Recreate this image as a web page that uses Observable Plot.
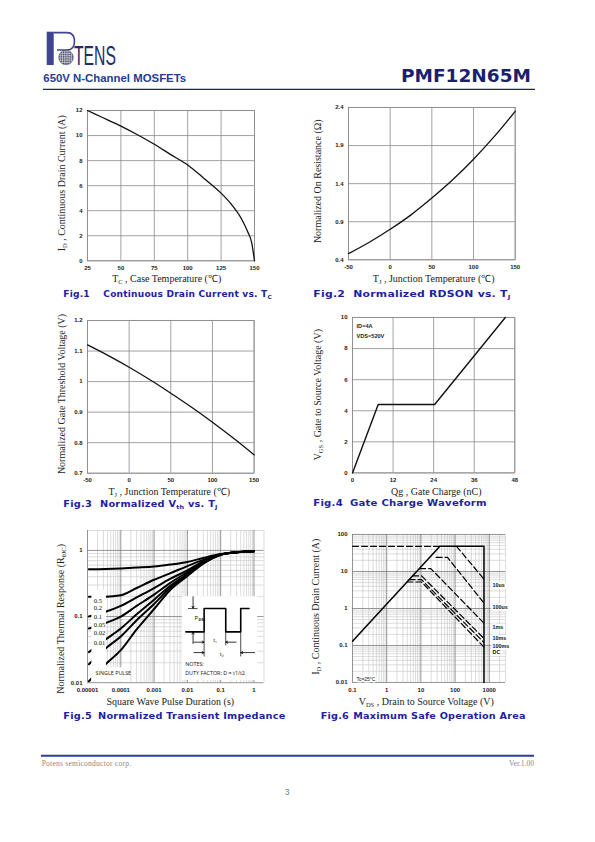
<!DOCTYPE html>
<html><head><meta charset="utf-8">
<script src="https://cdn.jsdelivr.net/npm/d3@7"></script>
<script src="https://cdn.jsdelivr.net/npm/@observablehq/plot@0.6"></script>
<style>
html,body{margin:0;padding:0;background:#fff;}
#page{position:relative;width:595px;height:842px;overflow:hidden;background:#fff;}
</style></head><body><div id="page"></div>
<script>
// ---------------- DATA ----------------
// Fig.1 Continuous drain current vs Tc
const f1Temp = [25, 35, 50, 60, 75, 87, 100, 112, 125, 132, 140, 145, 148, 150];
const f1Id   = [12, 11.5, 10.75, 10.2, 9.3, 8.5, 7.65, 6.6, 5.4, 4.6, 3.4, 2.3, 1.4, 0];
const f1XTicks = [25, 50, 75, 100, 125, 150];
const f1YTicks = [0, 2, 4, 6, 8, 10, 12];
// Fig.2 Normalized RDS(on) vs Tj
const f2Temp = [-50, -25, 0, 25, 50, 75, 100, 125, 150];
const f2Rds  = [0.48, 0.63, 0.80, 0.99, 1.21, 1.45, 1.72, 2.02, 2.35];
const f2XTicks = [-50, 0, 50, 100, 150];
const f2YTicks = [0.4, 0.9, 1.4, 1.9, 2.4];
// Fig.3 Normalized Vth vs Tj
const f3Temp = [-50, -25, 0, 25, 50, 75, 100, 125, 150];
const f3Vth  = [1.12, 1.085, 1.047, 1.006, 0.962, 0.916, 0.867, 0.815, 0.76];
const f3XTicks = [-50, 0, 50, 100, 150];
const f3YTicks = [0.7, 0.8, 0.9, 1, 1.1, 1.2];
// Fig.4 Gate charge
const f4Qg  = [0, 7.6, 24.3, 45.2];
const f4Vgs = [0, 4.4, 4.4, 10];
const f4XTicks = [0, 12, 24, 36, 48];
const f4YTicks = [0, 2, 4, 6, 8, 10];
const f4Notes = ["ID=4A", "VDS=520V"];
// Fig.5 Transient thermal impedance
const f5Time   = [1.1e-5, 3.5e-5, 1e-4, 3e-4, 1e-3, 3e-3, 1e-2, 3e-2, 0.1, 0.3, 1];
const f5D05    = [0.52, 0.525, 0.535, 0.55, 0.57, 0.61, 0.67, 0.77, 0.88, 0.94, 0.97];
const f5D02    = [0.20, 0.20, 0.21, 0.27, 0.36, 0.45, 0.58, 0.72, 0.87, 0.94, 0.97];
const f5D01    = [0.10, 0.118, 0.145, 0.195, 0.27, 0.37, 0.50, 0.68, 0.87, 0.94, 0.97];
const f5D005   = [0.066, 0.08, 0.10, 0.145, 0.215, 0.32, 0.47, 0.67, 0.87, 0.94, 0.97];
const f5D002   = [0.029, 0.045, 0.066, 0.108, 0.18, 0.29, 0.44, 0.65, 0.86, 0.94, 0.97];
const f5D001   = [0.019, 0.033, 0.05, 0.088, 0.155, 0.27, 0.425, 0.64, 0.86, 0.94, 0.97];
const f5Single = [0.0105, 0.019, 0.031, 0.064, 0.13, 0.25, 0.41, 0.63, 0.86, 0.94, 0.97];
const f5Duty   = ["0.5", "0.2", "0.1", "0.05", "0.02", "0.01", "single"];
const f5LegendLabels = ["0.5", "0.2", "0.1", "0.05", "0.02", "0.01"];
const f5LegendY = [0.175, 0.133, 0.1, 0.076, 0.056, 0.04];
const f5XTicks = [1e-5, 1e-4, 1e-3, 1e-2, 1e-1, 1];
const f5XLabels = ["0.00001", "0.0001", "0.001", "0.01", "0.1", "1"];
const f5YTicks = [0.01, 0.1, 1];
const f5YLabels = ["0.01", "0.1", "1"];
const f5WaveT = [0.009, 0.0318, 0.0318, 0.142, 0.142, 0.40, 0.40, 0.71];
const f5WaveV = [0.0587, 0.0587, 0.132, 0.132, 0.0587, 0.0587, 0.132, 0.132];
// Fig.6 Safe operating area
const f6LimitV = [0.1, 36, 700, 700];
const f6LimitI = [0.13, 48, 48, 0.01];
const f6PkgV = [0.1, 36];
const f6PkgI = [48, 48];
const f6Pulse = ["10us", "100us", "1ms", "10ms", "100ms", "DC"];
const f6PulseV = [[110, 700], [28, 60, 700], [9.2, 19.5, 700], [5.7, 10.5, 700], [4.5, 10.5, 700], [3.9, 10.5, 700]];
const f6PulseI = [[48, 6.2], [24, 24, 1.4], [12, 12, 0.4], [7.6, 7.6, 0.155], [6.0, 6.0, 0.12], [5.2, 5.2, 0.09]];
const f6LabelI = [4.3, 1.1, 0.31, 0.157, 0.097, 0.064];
const f6XTicks = [0.1, 1, 10, 100, 1000];
const f6XLabels = ["0.1", "1", "10", "100", "1000"];
const f6YTicks = [0.01, 0.1, 1, 10, 100];
const f6YLabels = ["0.01", "0.1", "1", "10", "100"];

// ---------------- LAYOUT HELPERS ----------------
const page = document.getElementById("page");
const ML = 62, MT = 12, MR = 14, MB = 40;
const GRID = "#8a8a8a";
const TICKFONT = '"Liberation Sans", Arial, sans-serif';

function writeSegs(sel, segs, subSize) {
  let shifted = false;
  segs.forEach(([s, sub]) => {
    const t = sel.append("tspan").text(s);
    if (sub) { t.attr("font-size", subSize); if (!shifted) { t.attr("dy", 2); shifted = true; } }
    else if (shifted) { t.attr("dy", -2); shifted = false; }
  });
}

function chart(cfg) {
  const w = cfg.right - cfg.left, h = cfg.bottom - cfg.top;
  const svg = Plot.plot({
    width: w + ML + MR, height: h + MT + MB,
    marginLeft: ML, marginRight: MR, marginTop: MT, marginBottom: MB,
    style: {fontFamily: TICKFONT, fontSize: "6px", fontWeight: "bold", color: "#222", background: "transparent", overflow: "visible"},
    x: cfg.x, y: cfg.y,
    marks: cfg.marks
  });
  const ox = cfg.left - ML, oy = cfg.top - MT;
  svg.style.position = "absolute";
  svg.style.left = ox + "px";
  svg.style.top = oy + "px";
  svg.style.maxWidth = "none";
  page.appendChild(svg);
  const s = d3.select(svg);
  const tx = s.append("text").attr("x", cfg.xTitle.cx - ox).attr("y", cfg.xTitle.base - oy)
    .attr("text-anchor", "middle").attr("font-family", '"Liberation Serif", "Times New Roman", serif')
    .attr("font-size", 10).attr("font-weight", "normal").attr("fill", "#222");
  writeSegs(tx, cfg.xTitle.segs, 6.5);
  const ty = s.append("text").attr("transform", `translate(${cfg.yTitle.base - ox},${cfg.yTitle.cy - oy}) rotate(-90)`)
    .attr("text-anchor", "middle").attr("font-family", '"Liberation Serif", "Times New Roman", serif')
    .attr("font-size", 10).attr("font-weight", "normal").attr("fill", "#222");
  writeSegs(ty, cfg.yTitle.segs, 6.5);
  return svg;
}

function linearMarks(xT, yT) {
  return [
    Plot.gridX(xT, {stroke: GRID, strokeOpacity: 1, strokeWidth: 0.8}),
    Plot.gridY(yT, {stroke: GRID, strokeOpacity: 1, strokeWidth: 0.8}),
    Plot.frame({stroke: GRID, strokeWidth: 0.8}),
    Plot.axisX(xT, {tickSize: 0, tickPadding: 5, label: null, tickFormat: d => `${d}`}),
    Plot.axisY(yT, {tickSize: 0, tickPadding: 5, label: null, tickFormat: d => `${d}`})
  ];
}

function minorTicks(lo, hi) {
  const out = [];
  for (let k = Math.floor(Math.log10(lo)); k <= Math.ceil(Math.log10(hi)); k++)
    for (let m = 2; m <= 9; m++) { const v = m * Math.pow(10, k); if (v > lo * 1.0001 && v <= hi * 1.0001) out.push(v); }
  return out;
}

function logMarks(xDom, yDom, xT, xL, yT, yL) {
  return [
    Plot.ruleX(minorTicks(xDom[0], xDom[1]), {stroke: "#c4c4c4", strokeWidth: 0.6}),
    Plot.ruleY(minorTicks(yDom[0], yDom[1]), {stroke: "#c4c4c4", strokeWidth: 0.6}),
    Plot.ruleX(xT, {stroke: "#7a7a7a", strokeWidth: 0.8}),
    Plot.ruleY(yT, {stroke: "#7a7a7a", strokeWidth: 0.8}),
    Plot.axisX(xT, {tickSize: 0, tickPadding: 5, label: null, tickFormat: d => xL[xT.indexOf(d)]}),
    Plot.axisY(yT, {tickSize: 0, tickPadding: 5, label: null, tickFormat: d => yL[yT.indexOf(d)]})
  ];
}

// ---------------- FIG 1 ----------------
chart({
  left: 87.3, right: 254.3, top: 109.7, bottom: 260,
  x: {domain: [25, 150]}, y: {domain: [0, 12]},
  marks: [
    ...linearMarks(f1XTicks, f1YTicks),
    Plot.line(f1Temp.map((t, i) => ({t, v: f1Id[i]})), {x: "t", y: "v", stroke: "#111", strokeWidth: 1.3, curve: "monotone-x"})
  ],
  xTitle: {cx: 167, base: 281.5, segs: [["T"], ["C", 1], [" , Case Temperature (℃)"]]},
  yTitle: {cy: 183, base: 65.5, segs: [["I"], ["D", 1], [" , Continuous Drain Current (A)"]]}
});

// ---------------- FIG 2 ----------------
chart({
  left: 348.3, right: 515, top: 106.7, bottom: 259,
  x: {domain: [-50, 150]}, y: {domain: [0.4, 2.4]},
  marks: [
    ...linearMarks(f2XTicks, f2YTicks),
    Plot.line(f2Temp.map((t, i) => ({t, v: f2Rds[i]})), {x: "t", y: "v", stroke: "#111", strokeWidth: 1.3, curve: "monotone-x"})
  ],
  xTitle: {cx: 434, base: 281.5, segs: [["T"], ["J", 1], [" , Junction Temperature (℃)"]]},
  yTitle: {cy: 181, base: 321, segs: [["Normalized On Resistance (Ω)"]]}
});

// ---------------- FIG 3 ----------------
chart({
  left: 86.7, right: 253.3, top: 320, bottom: 472.7,
  x: {domain: [-50, 150]}, y: {domain: [0.7, 1.2]},
  marks: [
    ...linearMarks(f3XTicks, f3YTicks),
    Plot.line(f3Temp.map((t, i) => ({t, v: f3Vth[i]})), {x: "t", y: "v", stroke: "#111", strokeWidth: 1.3, curve: "monotone-x"})
  ],
  xTitle: {cx: 169, base: 495, segs: [["T"], ["J", 1], [" , Junction Temperature (℃)"]]},
  yTitle: {cy: 394, base: 65, segs: [["Normalized Gate Threshold Voltage (V)"]]}
});

// ---------------- FIG 4 ----------------
chart({
  left: 351.7, right: 514, top: 317.3, bottom: 472.7,
  x: {domain: [0, 48]}, y: {domain: [0, 10]},
  marks: [
    ...linearMarks(f4XTicks, f4YTicks),
    Plot.line(f4Qg.map((q, i) => ({q, v: f4Vgs[i]})), {x: "q", y: "v", stroke: "#111", strokeWidth: 1.4}),
    Plot.text(f4Notes, {x: [1.2, 1.2], y: [9.45, 8.8], text: d => d, textAnchor: "start", fontSize: 5.6, fill: "#222"})
  ],
  xTitle: {cx: 436, base: 495, segs: [["Qg , Gate Charge (nC)"]]},
  yTitle: {cy: 395, base: 321, segs: [["V"], ["GS", 1], [" , Gate to Source Voltage (V)"]]}
});

// ---------------- FIG 5 ----------------
const f5Series = [f5D05, f5D02, f5D01, f5D005, f5D002, f5D001, f5Single];
const f5Data = f5Duty.flatMap((d, k) => f5Time.map((t, j) => ({d, t, z: f5Series[k][j]})));
const f5Masks = [
  {x1: 1.35e-5, x2: 3.7e-5, y1: 0.0102, y2: 0.25},
  {x1: 1.35e-5, x2: 1.5e-4, y1: 0.0102, y2: 0.0168},
  {x1: 0.0071, x2: 1.3, y1: 0.0108, y2: 0.2}
];
const f5Arrows = [
  {x1: 0.0148, y1: 0.199, x2: 0.0148, y2: 0.134},
  {x1: 0.0148, y1: 0.039, x2: 0.0148, y2: 0.058},
  {x1: 0.0158, y1: 0.041, x2: 0.0315, y2: 0.041},
  {x1: 0.29, y1: 0.041, x2: 0.143, y2: 0.041},
  {x1: 0.0158, y1: 0.0285, x2: 0.0315, y2: 0.0285},
  {x1: 1.05, y1: 0.0285, x2: 0.405, y2: 0.0285}
];
const f5Ext = [
  {x: 0.0318, y1: 0.0587, y2: 0.0245},
  {x: 0.142, y1: 0.0587, y2: 0.036},
  {x: 0.40, y1: 0.0587, y2: 0.0245}
];
chart({
  left: 86.7, right: 263.2, top: 530.1, bottom: 682.3,
  x: {type: "log", domain: [1e-5, 2]}, y: {type: "log", domain: [0.01, 2]},
  marks: [
    ...logMarks([1e-5, 2], [0.01, 2], f5XTicks, f5XLabels, f5YTicks, f5YLabels),
    Plot.line(f5Data, {x: "t", y: "z", z: "d", stroke: "#000", strokeWidth: 2, curve: "monotone-x"}),
    Plot.rect(f5Masks, {x1: "x1", x2: "x2", y1: "y1", y2: "y2", fill: "white"}),
    Plot.text(f5LegendLabels, {x: () => 1.55e-5, y: (d, i) => f5LegendY[i], text: d => d, textAnchor: "start", fontFamily: '"Liberation Serif", serif', fontWeight: "normal", fontSize: 6.5, fill: "#111"}),
    Plot.text(["SINGLE PULSE"], {x: () => 1.75e-5, y: () => 0.0138, text: d => d, textAnchor: "start", fontFamily: '"Open Sans", sans-serif', fontWeight: "normal", fontSize: 5.4, fill: "#111"}),
    Plot.line(f5WaveT.map((t, i) => ({t, v: f5WaveV[i]})), {x: "t", y: "v", stroke: "#000", strokeWidth: 1.6}),
    Plot.ruleX(f5Ext, {x: "x", y1: "y1", y2: "y2", stroke: "#000", strokeWidth: 0.7}),
    Plot.ruleY([0.132], {x1: () => 0.0108, x2: () => 0.021, y: d => d, stroke: "#000", strokeWidth: 0.7}),
    Plot.arrow(f5Arrows, {x1: "x1", y1: "y1", x2: "x2", y2: "y2", stroke: "#000", strokeWidth: 0.8, headLength: 4}),
    Plot.text(["P"], {x: () => 0.0165, y: () => 0.095, text: d => d, textAnchor: "start", fontFamily: '"Open Sans", sans-serif', fontWeight: "normal", fontSize: 6, fill: "#111"}),
    Plot.text(["DM"], {x: () => 0.0165, y: () => 0.095, dx: 4, dy: 1.5, text: d => d, textAnchor: "start", fontFamily: '"Open Sans", sans-serif', fontWeight: "bold", fontSize: 3.8, fill: "#111"}),
    Plot.text(["t₁"], {x: () => 0.068, y: () => 0.044, text: d => d, fontFamily: '"Open Sans", sans-serif', fontWeight: "normal", fontSize: 5.5, fill: "#111"}),
    Plot.text(["t₂"], {x: () => 0.107, y: () => 0.027, text: d => d, fontFamily: '"Open Sans", sans-serif', fontWeight: "normal", fontSize: 5.5, fill: "#111"}),
    Plot.text(["NOTES:", "DUTY FACTOR: D = t1/t2"], {x: () => 0.0086, y: [0.0193, 0.0139], text: d => d, textAnchor: "start", fontFamily: '"Open Sans", sans-serif', fontWeight: "normal", fontSize: 5.4, fill: "#111"})
  ],
  xTitle: {cx: 170, base: 705, segs: [["Square Wave Pulse Duration (s)"]]},
  yTitle: {cy: 619, base: 63.5, segs: [["Normalized Thermal Response (R"], ["θJC", 1], [")"]]}
});

// ---------------- FIG 6 ----------------
const f6Data = f6Pulse.flatMap((p, k) => f6PulseV[k].map((v, j) => ({p, v, i: f6PulseI[k][j]})));
chart({
  left: 351.7, right: 504.8, top: 534.3, bottom: 682.3,
  x: {type: "log", domain: [0.1, 3000]}, y: {type: "log", domain: [0.01, 100]},
  marks: [
    ...logMarks([0.1, 3000], [0.01, 100], f6XTicks, f6XLabels, f6YTicks, f6YLabels),
    Plot.line(f6PkgV.map((v, j) => ({v, i: f6PkgI[j]})), {x: "v", y: "i", stroke: "#000", strokeWidth: 1.2, strokeDasharray: "6,3"}),
    Plot.line(f6Data, {x: "v", y: "i", z: "p", stroke: "#000", strokeWidth: 1.2, strokeDasharray: "6,3"}),
    Plot.line(f6LimitV.map((v, j) => ({v, i: f6LimitI[j]})), {x: "v", y: "i", stroke: "#000", strokeWidth: 1.5}),
    Plot.text(f6Pulse, {x: () => 1250, y: (d, k) => f6LabelI[k], text: d => d, textAnchor: "start", fontSize: 5.4, fill: "#111", stroke: "white", strokeWidth: 3.5}),
    Plot.text(["Tc=25°C"], {x: () => 0.13, y: () => 0.0125, text: d => d, textAnchor: "start", fontSize: 5, fontWeight: "normal", fill: "#111", stroke: "white", strokeWidth: 3})
  ],
  xTitle: {cx: 426, base: 705, segs: [["V"], ["DS", 1], [" , Drain to Source Voltage (V)"]]},
  yTitle: {cy: 607, base: 318.5, segs: [["I"], ["D", 1], [" , Continuous Drain Current (A)"]]}
});

// ---------------- PAGE DECORATION (header, captions, footer) ----------------
const ov = d3.select(page).append("svg").attr("width", 595).attr("height", 842)
  .style("position", "absolute").style("left", "0px").style("top", "0px").style("pointer-events", "none");
const defs = ov.append("defs");
const pat = defs.append("pattern").attr("id", "dots").attr("width", 1.8).attr("height", 1.8).attr("patternUnits", "userSpaceOnUse");
pat.append("rect").attr("width", 1.8).attr("height", 1.8).attr("fill", "#e8e8ee");
pat.append("rect").attr("width", 1.25).attr("height", 1.25).attr("fill", "#3a3a55");
// logo
ov.append("rect").attr("x", 46.7).attr("y", 31.7).attr("width", 7).attr("height", 33.3).attr("fill", "#3f4493");
ov.append("path").attr("d", "M53.5,32.6 H67 Q74.5,32.6 74.5,41.3 Q74.5,50 67,50 H57").attr("fill", "none").attr("stroke", "#3f4493").attr("stroke-width", 1.6);
ov.append("circle").attr("cx", 66).attr("cy", 57.5).attr("r", 7.3).attr("fill", "url(#dots)").attr("stroke", "#3a3a55").attr("stroke-width", 0.5);
ov.append("text").attr("x", 74).attr("y", 65).attr("font-family", '"Liberation Sans", Arial, sans-serif').attr("font-size", 27)
  .attr("textLength", 42).attr("lengthAdjust", "spacingAndGlyphs").attr("fill", "#262a66").text("TENS");
// header texts
ov.append("text").attr("x", 43.3).attr("y", 81.5).attr("font-family", '"Liberation Sans", Arial, sans-serif').attr("font-weight", "bold")
  .attr("font-size", 11.4).attr("fill", "#1f3c96").text("650V N-Channel MOSFETs");
ov.append("text").attr("x", 531).attr("y", 82).attr("text-anchor", "end").attr("font-family", '"DejaVu Sans", sans-serif').attr("font-weight", "bold")
  .attr("font-size", 18.5).attr("fill", "#1b1f6e").text("PMF12N65M");
ov.append("line").attr("x1", 43).attr("x2", 535).attr("y1", 89.3).attr("y2", 89.3).attr("stroke", "#1b1f6e").attr("stroke-width", 1.2);

// captions: wide heavy face approximated by stretching DejaVu Sans Bold horizontally
const CAPCOL = "#1e22a0";
function caption(x, xs, y, segs, endX) {
  const g = ov.append("g");
  const t = g.append("text").attr("x", x).attr("y", y).attr("font-family", '"DejaVu Sans", sans-serif').attr("font-weight", "bold")
    .attr("font-size", 8.6).attr("letter-spacing", 0.2).attr("fill", CAPCOL);
  t.append("tspan").text(segs[0][0]);
  let first = null, shifted = false;
  segs.slice(1).forEach(([s, sub], k) => {
    const sp = t.append("tspan").text(s);
    if (k === 0) first = sp;
    if (sub) { sp.attr("font-size", 5.6); if (!shifted) { sp.attr("dy", 1.8); shifted = true; } }
    else if (shifted) { sp.attr("dy", -1.8); shifted = false; }
  });
  let sx = 1;
  for (let it = 0; it < 3; it++) {
    first.attr("x", x + (xs - x) / sx);
    const bb = t.node().getBBox();
    sx = (endX - x) / (bb.x + bb.width - x);
  }
  first.attr("x", x + (xs - x) / sx);
  g.attr("transform", `translate(${x},0) scale(${sx},1) translate(${-x},0)`);
}
caption(63.3, 103.3, 297, [["Fig.1"], ["Continuous Drain Current vs. T"], ["C", 1]], 272);
caption(313.3, 353.3, 297.3, [["Fig.2"], ["Normalized RDSON vs. T"], ["J", 1]], 511);
caption(63.3, 100, 507, [["Fig.3"], ["Normalized V"], ["th", 1], [" vs. T"], ["J", 1]], 218);
caption(313.3, 350, 506, [["Fig.4"], ["Gate Charge Waveform"]], 487);
caption(63.3, 98, 719, [["Fig.5"], ["Normalized Transient Impedance"]], 286);
caption(320.7, 353.3, 719, [["Fig.6"], ["Maximum Safe Operation Area"]], 526);

// footer
ov.append("line").attr("x1", 41).attr("x2", 534).attr("y1", 755.8).attr("y2", 755.8).attr("stroke", "#2a3d9c").attr("stroke-width", 2);
ov.append("text").attr("x", 41.7).attr("y", 765.5).attr("font-family", '"Liberation Serif", serif').attr("font-size", 7.5)
  .attr("letter-spacing", 0.25).attr("fill", "#888").text("Potens semiconductor corp.");
ov.append("text").attr("x", 534).attr("y", 765.5).attr("text-anchor", "end").attr("font-family", '"Liberation Serif", serif').attr("font-size", 7.5)
  .attr("fill", "#888").text("Ver.1.00");
ov.append("text").attr("x", 287).attr("y", 795).attr("text-anchor", "middle").attr("font-family", '"Liberation Sans", sans-serif').attr("font-size", 8.5)
  .attr("fill", "#777").text("3");
</script></body></html>
